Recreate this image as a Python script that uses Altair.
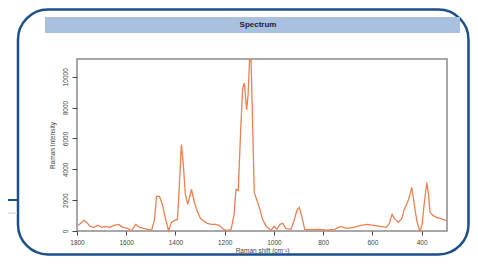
import altair as alt
import pandas as pd

# Raman spectrum
wavenumber = [1796,1784,1772,1760,1747,1731,1715,1699,1683,1667,
              1650,1630,1614,1594,1578,1562,1545,1529,1513,1497,
              1485,1477,1465,1453,1440,1428,1416,1404,1392,1384,
              1376,1368,1360,1350,1335,1323,1311,1299,1287,1271,
              1255,1238,1222,1206,1190,1174,1162,1154,1145,1135,
              1127,1120,1111,1105,1099,1093,1087,1080,1066,1057,
              1046,1032,1020,1012,1000,988,976,964,952,931,
              919,907,897,884,875,851,818,786,754,729,
              705,677,648,620,596,568,543,531,520,511,
              503,495,480,471,463,453,440,433,426,418,
              410,406,398,390,379,372,366,354,341,325,
              313,301]
intensity = [370,500,690,560,300,240,370,240,300,240,
             370,430,240,170,20,430,240,170,110,50,
             750,2240,2240,1720,750,20,560,690,750,3010,
             5590,4300,2370,1720,2690,1850,1270,820,660,500,
             430,430,370,110,20,110,1080,2690,2630,6560,
             9270,9590,7850,8820,11100,11080,7210,2500,1850,1400,
             750,320,170,20,300,110,430,500,170,110,
             630,1340,1530,750,110,80,110,50,110,300,
             170,240,370,430,370,300,240,500,1080,820,
             690,560,820,1400,1660,2050,2820,2050,1270,560,
             110,0,430,1720,3140,2370,1210,1010,880,820,
             750,690]

x_ticks = [1800, 1600, 1400, 1200, 1000, 800, 600, 400]
y_ticks = [0, 2000, 4000, 6000, 8000, 10000]
title_text = "Spectrum"
x_title = "Raman shift (cm⁻¹)"
y_title = "Raman Intensity"

df = pd.DataFrame({"shift": wavenumber, "intensity": intensity})
one = pd.DataFrame({"t": [title_text]})

W, H = 370, 172
FONT = "Liberation Sans"
BLUE = "#1b4f8a"

x_enc = alt.X("shift:Q",
              scale=alt.Scale(domain=[1800, 297], nice=False, zero=False),
              axis=alt.Axis(values=x_ticks, format="d", title=x_title,
                            domain=False, grid=False, tickSize=4, tickColor="#444",
                            labelFlush=False,
                            labelFontSize=6.5, labelColor="#444", labelPadding=4,
                            titleFontSize=6.5, titleFontWeight="normal",
                            titleColor="#444", titlePadding=2, labelFont=FONT,
                            titleFont=FONT))
y_enc = alt.Y("intensity:Q",
              scale=alt.Scale(domain=[0, 11150], nice=False),
              axis=alt.Axis(values=y_ticks, format="d", title=y_title,
                            domain=False, grid=False, tickSize=5, tickColor="#444",
                            labelFlush=False,
                            labelAngle=270, labelAlign="center", labelBaseline="bottom",
                            labelFontSize=6.5, labelColor="#444", labelPadding=4,
                            titleFontSize=6.5, titleFontWeight="normal",
                            titleColor="#444", titlePadding=7, labelFont=FONT,
                            titleFont=FONT))

deco = alt.Chart(one)

outer_box = deco.mark_rect(fillOpacity=0, stroke=BLUE, strokeWidth=2.5,
                           cornerRadius=30).encode(
    x=alt.value(-59), x2=alt.value(391.5), y=alt.value(-49.5), y2=alt.value(195.5))

left_line = deco.mark_rule(color=BLUE, strokeWidth=2).encode(
    x=alt.value(-70), x2=alt.value(-59), y=alt.value(141))
left_faint = deco.mark_rule(color="#dfe7f1", strokeWidth=2).encode(
    x=alt.value(-70), x2=alt.value(-60), y=alt.value(154))

title_bar = deco.mark_rect(color="#a9c1df").encode(
    x=alt.value(-32), x2=alt.value(383), y=alt.value(-42), y2=alt.value(-26))
title_lbl = deco.mark_text(font=FONT, fontSize=8, fontWeight="bold",
                           color="#1a2236").encode(
    text="t:N", x=alt.value(181), y=alt.value(-34))

curve = alt.Chart(df).mark_line(color="#ec8052", strokeWidth=1.3).encode(x=x_enc, y=y_enc)

chart = alt.layer(outer_box, left_line, left_faint, title_bar, title_lbl, curve).properties(
    width=W, height=H,
    autosize=alt.AutoSizeParams(type="none"),
    padding={"left": 69, "top": 51, "right": 23, "bottom": 25},
    background="white",
).configure_view(stroke="#8c8c8c", strokeWidth=1.5)

chart.save("out.html", embed_options={"renderer": "svg", "actions": False})
